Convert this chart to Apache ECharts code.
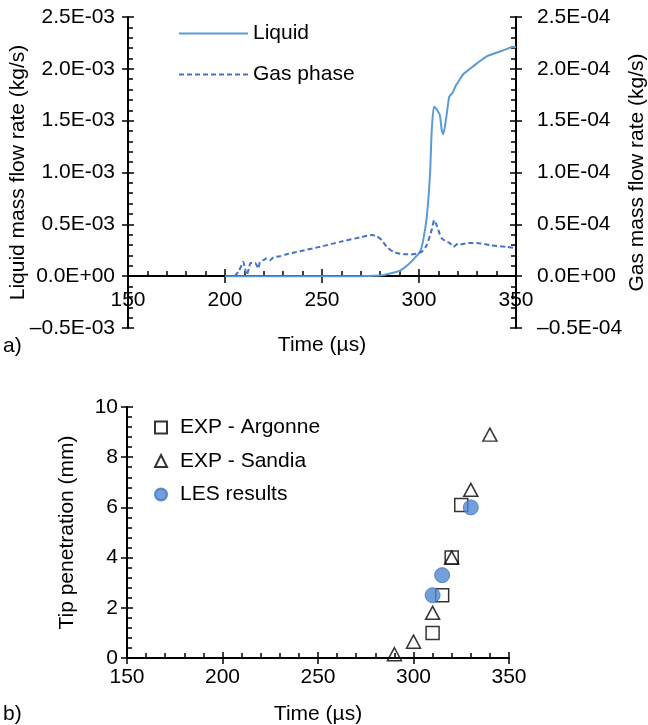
<!DOCTYPE html>
<html><head><meta charset="utf-8">
<script src="https://cdn.jsdelivr.net/npm/echarts@6/dist/echarts.min.js"></script>
<style>html,body{margin:0;padding:0;background:#fff}#c{width:648px;height:725px}</style>
</head><body><div id="c"></div>
<script>
// ---- (a) mass flow rates ----
const liquidTime = [200, 210, 220, 230, 240, 250, 260, 270, 277, 282, 287, 290, 293.7, 297, 300.5, 302.2, 304, 305.7, 306.5, 307.7, 309.4, 310.8, 311.7, 312.5, 313.9, 315.6, 317.3, 319, 320.8, 322.9, 326.3, 329.7, 334.9, 340, 345.2, 347.8, 350];
const liquidRate = [0, 0, 0, 0, 0, 0, 0, 0, 0.003e-3, 0.012e-3, 0.035e-3, 0.05e-3, 0.1e-3, 0.16e-3, 0.235e-3, 0.35e-3, 0.57e-3, 0.99e-3, 1.38e-3, 1.635e-3, 1.6e-3, 1.55e-3, 1.41e-3, 1.37e-3, 1.51e-3, 1.73e-3, 1.77e-3, 1.84e-3, 1.89e-3, 1.95e-3, 2.0e-3, 2.05e-3, 2.12e-3, 2.155e-3, 2.19e-3, 2.21e-3, 2.21e-3];
const gasTime = [205, 206.9, 208.6, 209.4, 210.3, 211.2, 212.5, 213.2, 215.5, 217.2, 218, 219.7, 221.5, 223.2, 224.9, 228.4, 231.8, 238.7, 249, 259.3, 269.6, 275.6, 278.2, 280.8, 283.4, 286.8, 291.9, 297.1, 301.4, 304, 306.5, 307.9, 309.4, 311.7, 316, 317.7, 320.3, 322, 326.3, 329.7, 336.6, 345.2, 350];
const gasRate = [0, 0.042e-4, 0.106e-4, 0.138e-4, 0.074e-4, 0.01e-4, 0.09e-4, 0.128e-4, 0.128e-4, 0.074e-4, 0.138e-4, 0.154e-4, 0.17e-4, 0.154e-4, 0.18e-4, 0.193e-4, 0.212e-4, 0.241e-4, 0.283e-4, 0.331e-4, 0.374e-4, 0.396e-4, 0.386e-4, 0.347e-4, 0.283e-4, 0.235e-4, 0.212e-4, 0.212e-4, 0.235e-4, 0.299e-4, 0.444e-4, 0.54e-4, 0.476e-4, 0.364e-4, 0.316e-4, 0.283e-4, 0.316e-4, 0.309e-4, 0.321e-4, 0.321e-4, 0.299e-4, 0.283e-4, 0.27e-4];
const liquidTicks = ['\u20130.5E-03', '0.0E+00', '0.5E-03', '1.0E-03', '1.5E-03', '2.0E-03', '2.5E-03'];
const gasTicks = ['\u20130.5E-04', '0.0E+00', '0.5E-04', '1.0E-04', '1.5E-04', '2.0E-04', '2.5E-04'];
const timeTicks = ['150', '200', '250', '300', '350'];

// ---- (b) tip penetration ----
const argonneTime = [310, 315, 320, 325];
const argonneTip = [1.0, 2.5, 4.0, 6.1];
const sandiaTime = [290, 300, 310, 320, 330, 340];
const sandiaTip = [0.15, 0.65, 1.8, 4.0, 6.7, 8.9];
const lesTime = [310, 315, 330];
const lesTip = [2.5, 3.3, 6.0];
const tipTicks = ['0', '2', '4', '6', '8', '10'];

const FONT = 'Liberation Sans, Arial, Helvetica, sans-serif';
const FS = 21;
const zip = (a, b) => a.map((v, i) => [v, b[i]]);
const lab = (arr, min, step) => v => { const i = Math.round((v - min) / step); return arr[i] !== undefined ? arr[i] : ''; };
const txt = { color: '#000', fontSize: FS, fontFamily: FONT };
const lineS = { color: '#000', width: 2 };
const tickS = { color: '#000', width: 1.5 };

function mainAxis(o) {
  return Object.assign({
    type: 'value', splitLine: { show: false },
    axisLine: { show: true, onZero: false, lineStyle: lineS },
    axisTick: { show: true, inside: true, length: 6, lineStyle: tickS },
    minorTick: { show: true, splitNumber: 5, length: 5, lineStyle: tickS },
    nameLocation: 'middle', nameMoveOverlap: false, nameTextStyle: txt
  }, o);
}
function overlayAxis(o) {
  return Object.assign({
    type: 'value', splitLine: { show: false },
    axisLine: { show: false, onZero: false },
    axisTick: { show: true, inside: false, length: 6, lineStyle: tickS },
    minorTick: { show: false }, axisLabel: { show: false }
  }, o);
}

const option = {
  animation: false,
  backgroundColor: '#fff',
  grid: [
    { left: 128, right: 132, top: 17, bottom: 397, outerBoundsMode: 'none' },
    { left: 127, right: 139, top: 407, bottom: 67, outerBoundsMode: 'none' },
    // zero line of chart (a): its time axis sits at y = 0
    { left: 128, right: 132, top: 17, bottom: 449, outerBoundsMode: 'none' }
  ],
  legend: [
    { data: ['Liquid', 'Gas phase'], orient: 'vertical', left: 178, top: 23, padding: 0, itemWidth: 69, itemHeight: 14, itemGap: 20,
      selectedMode: false, itemStyle: { opacity: 0 }, textStyle: txt },
    { data: ['EXP - Argonne', 'EXP - Sandia', 'LES results'], orient: 'vertical', left: 154, top: 417, padding: 0, itemWidth: 12, itemHeight: 12, itemGap: 12.5,
      selectedMode: false, textStyle: Object.assign({ padding: [0, 0, 0, 8] }, txt) }
  ],
  xAxis: [
    { type: 'value', gridIndex: 0, min: 150, max: 350, interval: 50, show: false },
    mainAxis({ gridIndex: 1, position: 'bottom', min: 150, max: 350, interval: 50,
      axisLabel: Object.assign({ margin: 9, formatter: lab(timeTicks, 150, 50) }, txt),
      name: 'Time (\u00b5s)', nameGap: 46 }),
    overlayAxis({ gridIndex: 1, position: 'bottom', min: 150, max: 350, interval: 50 }),
    mainAxis({ gridIndex: 2, position: 'bottom', min: 150, max: 350, interval: 50,
      axisTick: { show: true, inside: true, length: 7, lineStyle: tickS },
      axisLabel: Object.assign({ margin: 14, formatter: lab(timeTicks, 150, 50) }, txt),
      name: 'Time (\u00b5s)', nameGap: 59 }),
    overlayAxis({ gridIndex: 2, position: 'bottom', min: 150, max: 350, interval: 50,
      axisTick: { show: true, inside: false, length: 7, lineStyle: tickS } })
  ],
  yAxis: [
    mainAxis({ gridIndex: 0, position: 'left', min: -0.5e-3, max: 2.5e-3, interval: 0.5e-3,
      axisLabel: Object.assign({ margin: 13, formatter: lab(liquidTicks, -0.5e-3, 0.5e-3) }, txt),
      name: 'Liquid mass flow rate (kg/s)', nameGap: 99 }),
    mainAxis({ gridIndex: 0, position: 'right', min: -0.5e-4, max: 2.5e-4, interval: 0.5e-4,
      axisLabel: Object.assign({ margin: 21, formatter: lab(gasTicks, -0.5e-4, 0.5e-4) }, txt),
      name: 'Gas mass flow rate (kg/s)', nameGap: 111 }),
    overlayAxis({ gridIndex: 0, position: 'left', min: -0.5e-3, max: 2.5e-3, interval: 0.5e-3 }),
    overlayAxis({ gridIndex: 0, position: 'right', min: -0.5e-4, max: 2.5e-4, interval: 0.5e-4 }),
    mainAxis({ gridIndex: 1, position: 'left', min: 0, max: 10, interval: 2,
      axisLabel: Object.assign({ margin: 9, formatter: lab(tipTicks, 0, 2) }, txt),
      name: 'Tip penetration (mm)', nameGap: 49 }),
    overlayAxis({ gridIndex: 1, position: 'left', min: 0, max: 10, interval: 2 }),
    { type: 'value', gridIndex: 2, min: 0, max: 1, show: false }
  ],
  series: [
    { name: 'Liquid', type: 'line', xAxisIndex: 0, yAxisIndex: 0, data: zip(liquidTime, liquidRate),
      symbol: 'none', smooth: 0.2, color: '#5B9BD5', lineStyle: { color: '#5B9BD5', width: 2 } },
    { name: 'Gas phase', type: 'line', xAxisIndex: 0, yAxisIndex: 1, data: zip(gasTime, gasRate),
      symbol: 'none', smooth: 0.2, color: '#4472C4', lineStyle: { color: '#4472C4', width: 2, type: [5, 3] } },
    { name: 'EXP - Argonne', type: 'scatter', xAxisIndex: 1, yAxisIndex: 4, data: zip(argonneTime, argonneTip),
      symbol: 'rect', symbolSize: 13, itemStyle: { color: 'rgba(255,255,255,0)', borderColor: '#000', borderWidth: 1.5 } },
    { name: 'EXP - Sandia', type: 'scatter', xAxisIndex: 1, yAxisIndex: 4, data: zip(sandiaTime, sandiaTip),
      symbol: 'triangle', symbolSize: [14, 13], itemStyle: { color: 'rgba(255,255,255,0)', borderColor: '#000', borderWidth: 1.5 } },
    { name: 'LES results', type: 'scatter', xAxisIndex: 1, yAxisIndex: 4, data: zip(lesTime, lesTip),
      symbol: 'circle', symbolSize: 15, itemStyle: { color: '#4F87D1', borderColor: '#3F74C2', borderWidth: 1 } }
  ],
  graphic: [
    { type: 'text', left: 3, top: 336, style: { text: 'a)', font: FS + 'px ' + FONT, fill: '#000' } },
    { type: 'text', left: 3, top: 704, style: { text: 'b)', font: FS + 'px ' + FONT, fill: '#000' } }
  ]
};
const chart = echarts.init(document.getElementById('c'), null, { renderer: 'canvas' });
chart.setOption(option);
</script></body></html>
